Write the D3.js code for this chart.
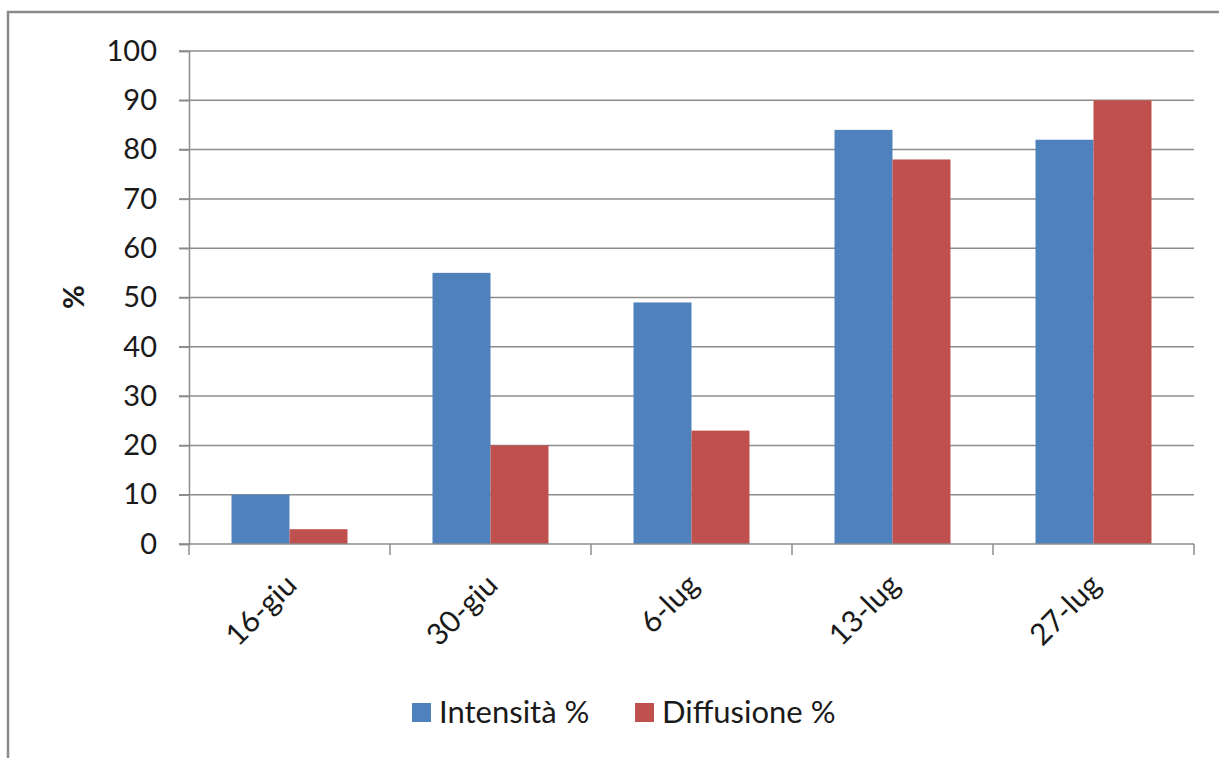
<!DOCTYPE html>
<html>
<head>
<meta charset="utf-8">
<script src="https://cdn.jsdelivr.net/npm/d3@7"></script>
<style>
  html, body { margin: 0; padding: 0; background: #fff; }
  svg { display: block; }
  text { font-family: Lato, "Open Sans", sans-serif; fill: #1a1a1a; }
</style>
</head>
<body>
<svg id="chart" width="1219" height="758"></svg>
<script>
const categories = ["16-giu", "30-giu", "6-lug", "13-lug", "27-lug"];
const seriesNames = ["Intensità %", "Diffusione %"];
const intensita = [10, 55, 49, 84, 82];
const diffusione = [3, 20, 23, 78, 90];
const yTicks = [0, 10, 20, 30, 40, 50, 60, 70, 80, 90, 100];
const colors = ["#4F81BD", "#C0504D"];

(function () {
const svg = d3.select("#chart");
const W = 1219, H = 758;

svg.append("rect")
  .attr("x", 8).attr("y", 12)
  .attr("width", W + 20).attr("height", H + 20)
  .attr("fill", "none").attr("stroke", "#8a8a8a").attr("stroke-width", 2.5);

const pLeft = 189, pRight = 1194, pTop = 51, pBottom = 544;

const x = d3.scaleBand().domain(categories).range([pLeft, pRight]).paddingInner(0).paddingOuter(0);
const y = d3.scaleLinear().domain([0, 100]).range([pBottom, pTop]);

const x1 = d3.scaleBand().domain(seriesNames)
  .range([0, x.bandwidth()]).paddingOuter(0.733).paddingInner(0);

svg.append("g").selectAll("line").data(yTicks.filter(d => d > 0)).join("line")
  .attr("x1", pLeft - 10).attr("x2", pRight)
  .attr("y1", d => y(d)).attr("y2", d => y(d))
  .attr("stroke", "#8c8c8c").attr("stroke-width", 1.5);

const yAxis = svg.append("g").attr("transform", `translate(${pLeft},0)`)
  .call(d3.axisLeft(y).tickValues(yTicks).tickSize(10).tickPadding(22));
yAxis.select(".domain").attr("stroke", "#8c8c8c").attr("stroke-width", 1.5);
yAxis.selectAll(".tick line").attr("stroke", "#8c8c8c").attr("stroke-width", 1.5);
yAxis.selectAll(".tick text").attr("font-size", 29).attr("font-family", "Lato, sans-serif").attr("fill", "#1a1a1a");

const data = categories.map((c, i) => ({ c, vals: [intensita[i], diffusione[i]] }));
const groups = svg.append("g").selectAll("g").data(data).join("g")
  .attr("transform", d => `translate(${x(d.c)},0)`);
groups.selectAll("rect").data(d => d.vals.map((v, j) => ({ v, s: seriesNames[j], j }))).join("rect")
  .attr("x", d => x1(d.s))
  .attr("width", x1.bandwidth())
  .attr("y", d => y(d.v))
  .attr("height", d => y(0) - y(d.v))
  .attr("fill", d => colors[d.j]);

const xAxis = svg.append("g").attr("transform", `translate(0,${pBottom})`);
xAxis.append("line").attr("x1", pLeft - 10).attr("x2", pRight).attr("y1", 0).attr("y2", 0)
  .attr("stroke", "#8c8c8c").attr("stroke-width", 1.5);
const bounds = categories.map(c => x(c)).concat([pRight]);
xAxis.selectAll("line.tk").data(bounds).join("line").attr("class", "tk")
  .attr("x1", d => d).attr("x2", d => d).attr("y1", 0).attr("y2", 11)
  .attr("stroke", "#8c8c8c").attr("stroke-width", 1.5);
xAxis.selectAll("text").data(categories).join("text")
  .attr("transform", d => `translate(${x(d) + x.bandwidth() / 2 + 9},${43}) rotate(-45)`)
  .attr("text-anchor", "end")
  .attr("font-size", 30)
  .text(d => d);

svg.append("text")
  .attr("transform", `translate(84,297) rotate(-90)`)
  .attr("text-anchor", "middle")
  .attr("font-size", 29).attr("font-weight", "bold")
  .text("%");

const legend = [
  { name: seriesNames[0], color: colors[0], x: 412 },
  { name: seriesNames[1], color: colors[1], x: 635 }
];
const lg = svg.append("g").selectAll("g").data(legend).join("g")
  .attr("transform", d => `translate(${d.x},703)`);
lg.append("rect").attr("width", 19).attr("height", 19).attr("fill", d => d.color);
lg.append("text").attr("x", 27).attr("y", 20).attr("font-size", 31).text(d => d.name);
})();
</script>
</body>
</html>
